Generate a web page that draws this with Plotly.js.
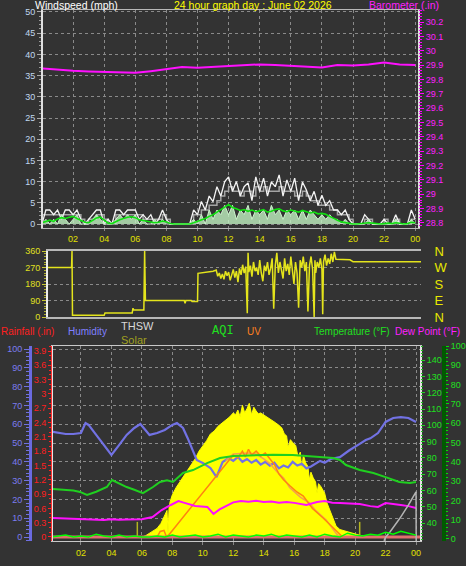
<!DOCTYPE html>
<html><head><meta charset="utf-8">
<script src="https://cdn.plot.ly/plotly-3.0.1.min.js"></script>
<style>html,body{margin:0;padding:0;background:#333333;} #chart{width:466px;height:566px;}</style>
</head><body><div id="chart"></div>
<script>
// ---------- tick labels ----------
const hourTicks = [2,4,6,8,10,12,14,16,18,20,22,24];
const hourLabels = ['02','04','06','08','10','12','14','16','18','20','22','00'];
const compassVals = [0,90,180,270,360];
const compassLabels = ['N','E','S','W','N'];

// ---------- panel 1 : wind (mph), every 15 min from 00:00 ----------
const windGust = [
 0,3.3,3.3,2.2,
 3.3,1.1,3.3,3.3,
 2.2,3.3,1.1,0,
 1.1,2.2,3.3,3.3,
 0,1.1,0,3.3,
 3.3,2.2,3.3,3.3,
 3.3,1.1,2.2,1.1,
 2.2,0,1.1,3.3,
 1.1,0,0,0,
 0,0,0,3.3,
 2.2,5.3,3.3,6.6,
 5.3,8.8,6.6,10.0,
 11.1,7.7,10.0,6.6,
 8.8,9.7,5.5,11.1,
 7.7,10.8,6.6,9.9,
 8.8,11.6,6.6,10.4,
 7.7,10.8,5.5,9.9,
 8.0,5.5,7.7,4.4,
 6.8,4.4,5.5,3.3,
 3.3,2.2,3.3,1.1,
 0,0,0,2.2,
 1.1,0,0,0,
 1.1,0,0,2.2,
 0,0,0,3.3,
 1.1];
const windHi = [
 2.2,2.2,2.2,2.2,
 2.2,2.2,2.2,2.2,
 2.2,2.2,1.1,0,
 1.1,1.1,2.2,2.2,
 1.1,0,0,2.2,
 2.2,2.2,2.2,2.2,
 2.2,2.2,1.1,1.1,
 1.1,1.1,1.1,2.2,
 1.1,0,0,0,
 0,0,0,2.2,
 2.2,3.3,3.3,4.4,
 4.4,5.5,6.6,7.7,
 8.8,7.7,7.7,6.6,
 7.7,7.7,6.6,8.8,
 7.7,8.8,7.7,7.7,
 7.7,8.8,7.7,7.7,
 7.7,6.6,6.6,7.7,
 6.6,5.5,5.5,4.4,
 4.4,4.4,3.3,3.3,
 2.2,2.2,2.2,1.1,
 0,0,0,1.1,
 1.1,0,0,0,
 1.1,0,0,1.1,
 0,0,0,1.1,
 1.1];
const windAvg = [
 0.3,0.6,0.9,0.6,
 1.2,1.5,1.3,1.6,
 1.8,1.3,0.9,0.4,
 0.3,0.8,1.4,1.6,
 0.9,0.2,0.1,0.6,
 1.0,1.3,1.6,1.7,
 1.5,1.0,0.8,0.6,
 0.5,0.3,0.4,0.7,
 0.5,0.1,0,0,
 0,0,0,0.3,
 0.6,1.0,1.3,1.8,
 2.2,2.8,3.3,4.0,
 4.6,3.9,3.6,3.2,
 3.4,3.0,3.3,2.9,
 3.1,3.4,2.8,3.0,
 3.4,3.6,3.1,2.9,
 3.3,3.0,2.8,3.2,
 2.9,2.6,2.8,2.4,
 2.5,2.3,1.8,1.3,
 0.9,0.5,0.3,0.2,
 0,0,0.1,0.2,
 0.3,0.2,0.1,0,
 0.1,0.2,0.1,0.3,
 0.2,0,0.1,0.4,
 0.3];
const windSpeed = [
 0,1.1,0,1.1,
 0,2.2,1.1,0,
 1.1,2.2,0,0,
 0,1.1,2.2,1.1,
 0,0,0,1.1,
 2.2,1.1,2.2,1.1,
 2.2,0,1.1,0,
 0,1.1,0,1.1,
 0,0,0,0,
 0,0,0,1.1,
 0,2.2,0,3.3,
 1.1,3.3,2.2,4.4,
 2.2,4.4,1.1,3.3,
 2.2,4.4,1.1,3.3,
 2.2,3.3,1.1,4.4,
 2.2,3.3,1.1,3.3,
 2.2,3.3,1.1,3.3,
 1.1,3.3,2.2,1.1,
 2.2,1.1,2.2,1.1,
 1.1,0,1.1,0,
 0,0,0,0,
 1.1,0,0,0,
 0,0,0,1.1,
 0,0,0,1.1,
 0];
// barometer (in), hourly from 00:00
const baro = [29.877,29.867,29.860,29.856,29.852,29.849,29.846,29.858,29.872,29.886,
 29.882,29.887,29.895,29.900,29.905,29.900,29.895,29.890,29.884,29.900,29.897,29.905,29.918,29.905,29.900];

// ---------- panel 2 : wind direction [hour, degrees] ----------
const windDir = [
 [0.39,270],[1.90,270],[1.93,360],[1.96,10],[4.0,10],[4.05,22],[5.8,22],[5.85,48],[5.9,38],[6.55,38],
 [6.6,360],[6.65,90],[9.15,90],[9.2,75],[9.25,90],[9.6,90],[9.65,85],[10.0,85],[10.03,238],[10.5,243],
 [11.0,250],[11.2,256],[11.3,222],[11.4,240],[11.5,210],[11.6,235],[11.7,205],[11.8,250],[11.9,225],
 [12.0,245],[12.1,200],[12.2,230],[12.3,260],[12.4,215],[12.5,250],[12.6,190],[12.7,265],[12.8,230],
 [12.9,285],[13.0,240],[13.1,275],[13.2,20],[13.25,350],[13.3,245],[13.4,280],[13.5,220],[13.6,300],
 [13.7,250],[13.8,270],[13.9,230],[14.0,310],[14.1,240],[14.2,195],[14.3,280],[14.4,250],[14.5,300],
 [14.6,230],[14.7,265],[14.8,320],[14.9,45],[15.0,280],[15.1,350],[15.2,240],[15.3,300],[15.4,260],
 [15.5,210],[15.6,320],[15.7,250],[15.8,290],[15.9,230],[16.0,330],[16.1,260],[16.2,180],[16.3,300],
 [16.4,240],[16.5,50],[16.6,310],[16.7,270],[16.8,330],[16.9,250],[17.0,300],[17.1,30],[17.2,280],
 [17.3,330],[17.4,260],[17.5,0],[17.55,310],[17.6,240],[17.7,300],[17.8,270],[17.9,320],[18.0,260],
 [18.05,15],[18.1,300],[18.2,340],[18.3,280],[18.4,320],[18.5,290],[18.6,345],[18.7,300],[18.8,355],
 [18.9,315],[19.8,312],[20.0,302],[24.37,302]];

// ---------- panel 3 ----------
// solar radiation (W/m2) [hour, value]
const solar = [
 [0,0],[6.0,0],[6.25,8],[6.5,20],[6.75,32],[7.0,46],[7.25,72],[7.5,120],[7.65,140],[7.72,12],[7.78,150],
 [7.85,185],[8.0,222],[8.25,260],[8.5,290],[8.75,320],[9.0,345],[9.25,380],[9.5,410],[9.75,450],[10.0,475],
 [10.25,505],[10.5,540],[10.75,555],[11.0,580],[11.25,595],[11.5,610],[11.75,628],[12.0,650],[12.15,640],
 [12.3,665],[12.45,630],[12.6,690],[12.75,650],[12.9,672],[13.05,700],[13.2,640],[13.35,680],[13.5,660],
 [13.65,645],[13.8,650],[14.0,640],[14.25,625],[14.5,615],[14.75,600],[15.0,585],[15.2,570],[15.35,540],
 [15.5,530],[15.6,470],[15.75,510],[15.9,495],[16.1,480],[16.25,420],[16.4,445],[16.5,350],[16.6,430],
 [16.75,390],[16.9,370],[17.0,300],[17.1,340],[17.25,310],[17.4,290],[17.5,230],[17.6,280],[17.75,265],
 [18.0,230],[18.15,180],[18.3,150],[18.5,100],[18.75,58],[19.0,40],[19.5,27],[20.0,17],[20.5,6],[20.8,0],[24.3,0]];
const solarSpikeH = [5.7,5.7,null,20.3,20.3];
const solarSpikeV = [0,80,null,0,80];
// humidity (%) [hour, value]
const humidity = [
 [0.16,55.9],[0.5,55.3],[1.0,54.8],[1.5,54.8],[2.0,55.3],[2.3,60.6],[2.5,59.6],[3.0,54.3],[3.5,48.9],
 [4.0,43.6],[4.5,48.9],[5.0,54.3],[5.5,58.0],[5.9,60.1],[6.5,54.3],[7.0,55.3],[7.5,56.9],[8.0,59.6],
 [8.3,60.6],[8.7,58.0],[9.0,52.7],[9.3,46.3],[9.6,41.0],[10.0,39.4],[10.5,36.7],[10.9,31.9],[11.1,35.6],
 [11.3,39.9],[11.7,42.0],[12.0,40.5],[12.3,42.5],[12.6,40.0],[12.9,41.5],[13.2,39.5],[13.5,41.0],
 [13.8,38.5],[14.1,40.0],[14.4,38.0],[14.7,39.5],[15.0,36.5],[15.3,38.0],[15.6,37.0],[15.9,40.0],
 [16.2,38.0],[16.5,39.0],[16.8,36.5],[17.1,37.5],[17.4,39.0],[17.7,40.5],[18.0,39.5],[18.4,41.5],
 [19.0,42.5],[19.6,46.0],[20.3,49.5],[20.7,51.6],[21.0,52.5],[21.5,55.3],[22.0,61.2],[22.5,63.3],
 [23.0,63.8],[23.5,63.3],[24.0,61.2]];
// temperature (F)
const temperature = [
 [0.16,61.0],[0.5,60.8],[1.0,60.5],[1.5,60.1],[1.94,59.2],[2.4,57.3],[3.0,59.3],[3.25,60.4],[3.7,62.2],
 [4.04,66.5],[4.37,65.0],[5.0,62.2],[5.5,60.5],[6.07,58.5],[6.73,62.2],[7.19,65.3],[7.65,66.3],[8.04,65.3],
 [8.7,70.8],[9.36,72.6],[10.28,76.9],[11.13,80.0],[12.0,81.2],[13.3,81.8],[14.6,82.0],[15.9,81.8],
 [16.8,81.2],[17.7,80.6],[18.55,80.0],[19.0,78.8],[19.4,75.7],[20.3,72.6],[21.2,70.8],[22.0,68.3],
 [22.9,65.3],[23.6,64.7],[24.0,65.3]];
// dew point (F)
const dewPoint = [
 [0.16,43.2],[1,42.8],[2,42.3],[2.5,42.2],[3,41.9],[3.5,42.0],[4,42.4],[4.5,42.1],[5,42.3],[5.5,42.2],
 [6,42.5],[6.7,43.8],[7.3,48.1],[7.9,51.2],[8.4,53.6],[8.8,52.5],[9.5,50.6],[10.3,50.0],[10.7,45.7],
 [11.1,48.5],[11.5,50.5],[12.0,52.8],[12.5,53.6],[13,53.2],[13.5,53.8],[14,53.0],[14.5,53.4],[15,52.6],
 [15.5,53.0],[16,52.5],[16.8,51.2],[17.5,53.0],[18,53.6],[18.5,52.6],[19,52.4],[19.7,52.2],[20.3,51.8],
 [21,50.5],[21.5,50.0],[22,52.4],[22.5,51.6],[23,51.2],[23.5,50.5],[24,49.4]];
// THSW (F)
const thsw = [[21.9,29.2],[22.0,31.5],[22.3,34.8],[22.95,43.2],[23.5,51.2],[24.0,59.3],[24.01,29.2]];
// UV index
const uvA = [
 [7.0,0],[7.2,0.3],[7.45,0.35],[7.6,0.05],[7.75,0.1],[11.8,4.1],[12.0,4.3],[12.3,4.15],[12.6,4.5],
 [12.8,4.2],[13.0,4.6],[13.2,4.3],[13.5,4.5],[13.8,4.25],[14.1,4.4],[14.4,4.1],[14.7,3.8],[15.0,3.3],
 [15.3,3.0],[15.7,2.7],[16.2,2.35],[16.6,2.15],[17.2,1.5],[17.9,1.0],[18.55,0.5],[19.0,0.1],[19.2,0]];
const uvB = [
 [11.5,4.0],[12.0,4.35],[13.0,4.4],[13.5,4.35],[14.0,4.1],[14.4,3.85],[14.9,3.4],[15.3,3.1],[15.7,2.6],
 [16.4,2.1],[17.0,1.8],[17.4,1.4],[18.1,0.9],[18.75,0.2],[19.0,0]];
// rainfall (in)
const rainH = [0.16,24.26];
const rain = [0,0];
// AQI, every 30 min
const aqi = [1,1.5, 2,1, 1.5,1, 2.5,1.5, 1,2, 1,1.5, 1,1, 1.5,1, 2,1, 1.5,2, 1,1.5, 2.5,1,
 2,1.5, 1,2, 1.5,2.5, 1,2, 1.5,1, 2,1, 2.5,1.5, 1,3, 2,1.5, 2.5,2, 3.5,2.5, 4,3, 2];

// ---------- layout helpers ----------
const W = 466, H = 566;
const px = v => v / W;
const py = v => 1 - v / H;
const FONT = 'Liberation Sans, Arial, sans-serif';
const GRID = '#8a8a8a';
const hx = a => a.map(p => p[0]);
const hy = a => a.map(p => p[1]);

const traces = [
  {x0:0, dx:0.25, y:windHi, xaxis:'x', yaxis:'y', mode:'lines', line:{color:'#a4a4a4', width:1.5, shape:'hv'}},
  {x0:0, dx:0.25, y:windGust, xaxis:'x', yaxis:'y', mode:'lines', line:{color:'#f4f4f4', width:1.3}},
  {x0:0, dx:0.25, y:windSpeed, xaxis:'x', yaxis:'y', mode:'lines', fill:'tozeroy', fillcolor:'rgba(196,246,196,0.78)', line:{color:'#cdf6cd', width:1}},
  {x0:0, dx:0.25, y:windAvg, xaxis:'x', yaxis:'y', mode:'lines', line:{color:'#10e010', width:1.6}},
  {x0:0, dx:1, y:baro, xaxis:'x', yaxis:'y2', mode:'lines', line:{color:'#ff10ff', width:2}},

  {x:hx(windDir), y:hy(windDir), xaxis:'x2', yaxis:'y3', mode:'lines', line:{color:'#e4e41c', width:1.5}},
  {x:[], y:[], xaxis:'x2', yaxis:'y4', mode:'lines'},

  {x:hx(solar), y:hy(solar), xaxis:'x3', yaxis:'y5', mode:'lines', fill:'tozeroy', fillcolor:'#ffff00', line:{color:'#ffff00', width:1}},
  {x:solarSpikeH, y:solarSpikeV, xaxis:'x3', yaxis:'y5', mode:'lines', line:{color:'#b4b420', width:1.5}},
  {x:hx(humidity), y:hy(humidity), xaxis:'x3', yaxis:'y6', mode:'lines', line:{color:'#7272e4', width:2.2}},
  {x:rainH, y:rain, xaxis:'x3', yaxis:'y7', mode:'lines', line:{color:'#e07070', width:3}},
  {x:hx(uvB), y:hy(uvB), xaxis:'x3', yaxis:'y8', mode:'lines', line:{color:'#f4a050', width:1.5}},
  {x:hx(uvA), y:hy(uvA), xaxis:'x3', yaxis:'y8', mode:'lines', line:{color:'#ff8410', width:1.5}},
  {x:hx(temperature), y:hy(temperature), xaxis:'x3', yaxis:'y9', mode:'lines', line:{color:'#20d020', width:2}},
  {x:hx(dewPoint), y:hy(dewPoint), xaxis:'x3', yaxis:'y9', mode:'lines', line:{color:'#ff10ff', width:2}},
  {x:hx(thsw), y:hy(thsw), xaxis:'x3', yaxis:'y9', mode:'lines', line:{color:'#b4b4b4', width:1.5}},
  {x0:0, dx:0.5, y:aqi, xaxis:'x3', yaxis:'y10', mode:'lines', line:{color:'#00ff00', width:1.5}}
];

const tf = (c, s) => ({family:FONT, size:s || 9, color:c});
const ann = (text, x, y, color, anchor, size, fam) => ({
  text, x:px(x), y:py(y), xref:'paper', yref:'paper', xanchor:anchor || 'left', yanchor:'middle',
  showarrow:false, font:{family:fam || FONT, size:size || 10, color}, borderpad:0
});

const layout = {
  width:W, height:H, margin:{l:0, r:0, t:0, b:0},
  paper_bgcolor:'#333333', plot_bgcolor:'#333333',
  showlegend:false, hovermode:false,
  font:{family:FONT, size:9, color:'#ddd'},
  xaxis:{domain:[px(43), px(418)], range:[0.064, 24.18], anchor:'y',
    tickvals:hourTicks, ticktext:hourLabels, tickfont:tf('#e0e000'),
    ticks:'outside', ticklen:2, tickcolor:'#888',
    showgrid:true, gridcolor:GRID, griddash:'dot', gridwidth:1,
    showline:true, mirror:true, linecolor:'#b8b8b8', linewidth:1, zeroline:false},
  yaxis:{domain:[py(228), py(10)], range:[-0.94, 50.47], anchor:'x',
    tick0:0, dtick:5, tickfont:tf('#c0d8f0'),
    ticks:'outside', ticklen:4, tickcolor:'#aaa',
    minor:{tick0:0, dtick:1, ticklen:2, tickcolor:'#999', ticks:'outside', showgrid:false},
    showgrid:true, gridcolor:GRID, griddash:'dot',
    showline:true, mirror:true, linecolor:'#e0e0e0', linewidth:2, zeroline:false},
  yaxis2:{overlaying:'y', side:'right', anchor:'x', range:[28.765, 30.284],
    tick0:28.8, dtick:0.1, tickfont:tf('#ff20ff'),
    ticks:'outside', ticklen:5, tickcolor:'#ff00ff',
    minor:{tick0:28.8, dtick:0.02, ticklen:3, tickcolor:'#ff00ff', ticks:'outside', showgrid:false},
    showgrid:false, zeroline:false, showline:false},

  xaxis2:{domain:[px(48), px(421)], range:[0.386, 24.37], anchor:'y3',
    showticklabels:false, ticks:'', showgrid:false,
    showline:true, mirror:true, linecolor:'#b8b8b8', linewidth:2, zeroline:false},
  yaxis3:{domain:[py(317), py(251)], range:[0, 360], anchor:'x2',
    tick0:0, dtick:90, tickfont:tf('#e0e020'),
    ticks:'outside', ticklen:4, tickcolor:'#c8c830',
    minor:{tick0:0, dtick:15, ticklen:2, tickcolor:'#b0b030', ticks:'outside', showgrid:false},
    showgrid:true, gridcolor:GRID, griddash:'dot',
    showline:true, linecolor:'#eeeeee', linewidth:2, zeroline:false},
  yaxis4:{overlaying:'y3', side:'right', anchor:'x2', range:[0, 360],
    tickvals:compassVals, ticktext:compassLabels, tickfont:{family:FONT, size:13, color:'#e8e800'},
    ticks:'outside', ticklen:10, tickcolor:'rgba(0,0,0,0)',
    showgrid:false, zeroline:false, showline:false},

  xaxis3:{domain:[px(53), px(420)], range:[0.164, 24.26], anchor:'y5',
    tickvals:hourTicks, ticktext:hourLabels, tickfont:tf('#e0e000'),
    ticks:'outside', ticklen:3, tickcolor:'#888',
    showgrid:true, gridcolor:GRID, griddash:'dot',
    showline:true, mirror:true, linecolor:'#c8c8c8', linewidth:1, zeroline:false},
  yaxis5:{domain:[py(541), py(346)], range:[-20, 1000], anchor:'x3',
    showticklabels:false, ticks:'', showgrid:false, zeroline:false,
    showline:true, mirror:true, linecolor:'#e4e4e4', linewidth:2},
  yaxis6:{overlaying:'y5', anchor:'free', position:px(30), side:'left', range:[-2.13, 101.6],
    tick0:0, dtick:10, tickfont:tf('#7c7cf0'),
    ticks:'outside', ticklen:5, tickcolor:'#7070e0',
    minor:{tick0:0, dtick:2, ticklen:3, tickcolor:'#7070e0', ticks:'outside', showgrid:false},
    showgrid:true, gridcolor:GRID, griddash:'dot',
    showline:true, linecolor:'#6a6ae0', linewidth:3, zeroline:false},
  yaxis7:{overlaying:'y5', anchor:'free', position:px(51), side:'left', range:[-0.084, 4.005],
    tick0:0, dtick:0.3, tickfont:tf('#ff2020'),
    ticks:'outside', ticklen:3, tickcolor:'#ff2020',
    minor:{tick0:0, dtick:0.1, ticklen:2, tickcolor:'#ff2020', ticks:'outside', showgrid:false},
    showgrid:false, showline:true, linecolor:'#ff3030', linewidth:1, zeroline:false},
  yaxis8:{overlaying:'y5', anchor:'x3', range:[-0.2, 10], visible:false},
  yaxis9:{overlaying:'y5', anchor:'x3', side:'right', range:[29.14, 148.6],
    tickvals:[40,50,60,70,80,90,100,110,120,130,140], tickfont:tf('#20e020'),
    ticks:'outside', ticklen:4, tickcolor:'#20d020',
    minor:{tick0:30, dtick:2, ticklen:2, tickcolor:'#20c020', ticks:'outside', showgrid:false},
    showgrid:false, zeroline:false, showline:false},
  yaxis10:{overlaying:'y5', anchor:'free', position:px(444), side:'right', range:[-1.04, 100],
    tick0:0, dtick:10, tickfont:tf('#20e020'),
    ticks:'outside', ticklen:3, tickcolor:'#00e000',
    minor:{tick0:0, dtick:2, ticklen:2, tickcolor:'#00e000', ticks:'outside', showgrid:false},
    showgrid:false, zeroline:false, showline:true, linecolor:'#005a00', linewidth:4},

  annotations:[
    ann('Windspeed (mph)', 34, 5, '#ffffff', 'left', 10.5),
    ann('24 hour graph day : June 02 2026', 252.5, 5, '#ffff00', 'center', 10.5),
    ann('Barometer (.in)', 440, 5, '#ff20ff', 'right', 10.5),
    ann('Rainfall (.in)', 0, 332, '#ff2020'),
    ann('Humidity', 67, 332, '#8080ff'),
    ann('THSW', 120, 326, '#d8d8d8', 'left', 11),
    ann('Solar', 120, 340, '#a0a020', 'left', 11),
    ann('AQI', 211, 331, '#20e020', 'left', 12, 'Liberation Mono, monospace'),
    ann('UV', 246, 332, '#ff8020'),
    ann('Temperature (°F)', 313, 332, '#20e020'),
    ann('Dew Point (°F)', 394, 332, '#ff20ff')
  ]
};

Plotly.newPlot('chart', traces, layout, {staticPlot:true, displayModeBar:false});
</script>
</body></html>
